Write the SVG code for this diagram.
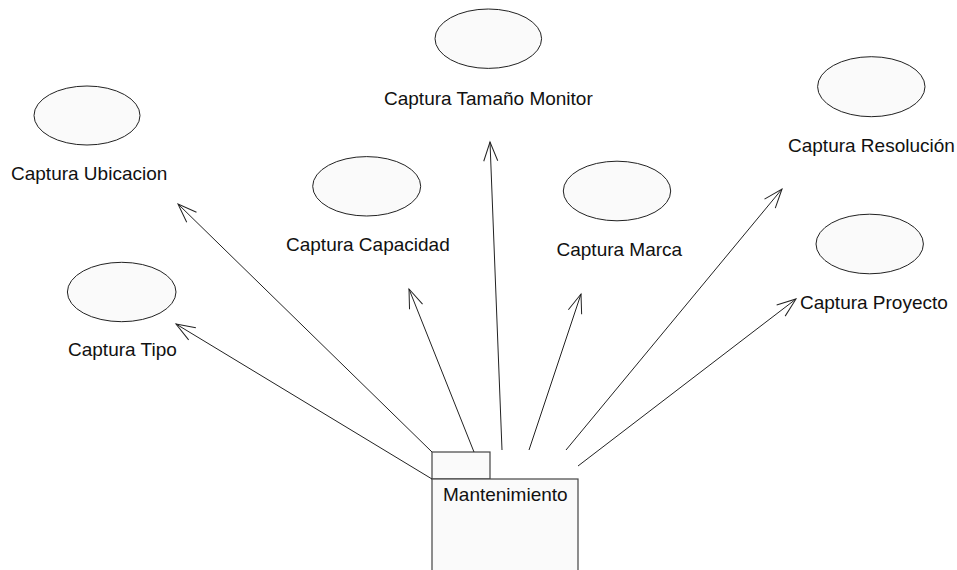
<svg xmlns="http://www.w3.org/2000/svg" width="957" height="570" viewBox="0 0 957 570">
<style>
.uc{fill:#fafafa;stroke:#222;stroke-width:1}
.lbl{font-family:"Liberation Sans",Arial,sans-serif;font-size:19px;fill:#111}
.pkg{fill:#fafafa;stroke:#444;stroke-width:1.2}
.conn line{stroke:#222;stroke-width:1;fill:none;marker-end:url(#open)}
</style>
<defs>
<marker id="open" markerUnits="userSpaceOnUse" markerWidth="30" markerHeight="30" refX="0" refY="0" viewBox="-25 -12 30 24" orient="auto" overflow="visible">
<path d="M-19,-7 L0,0 L-19,7" fill="none" stroke="#222" stroke-width="1"/>
</marker>
</defs>
<rect width="957" height="570" fill="#fff"/>
<g id="ubicacion"><ellipse class="uc" cx="87" cy="115.5" rx="53" ry="29.5"/><text class="lbl" x="11" y="180">Captura Ubicacion</text></g>
<g id="tipo"><ellipse class="uc" cx="121.7" cy="292" rx="54.3" ry="29.7"/><text class="lbl" x="68" y="356">Captura Tipo</text></g>
<g id="capacidad"><ellipse class="uc" cx="366.7" cy="186.3" rx="54" ry="29.7"/><text class="lbl" x="286" y="250.5">Captura Capacidad</text></g>
<g id="tamano"><ellipse class="uc" cx="488.3" cy="38.7" rx="53.3" ry="29.7"/><text class="lbl" x="384" y="105">Captura Tamaño Monitor</text></g>
<g id="marca"><ellipse class="uc" cx="617" cy="191" rx="53.7" ry="29.8"/><text class="lbl" x="556.5" y="256">Captura Marca</text></g>
<g id="resolucion"><ellipse class="uc" cx="871.3" cy="86.7" rx="53.7" ry="30"/><text class="lbl" x="788" y="151.5">Captura Resolución</text></g>
<g id="proyecto"><ellipse class="uc" cx="869.7" cy="244" rx="53.7" ry="29.8"/><text class="lbl" x="800" y="309">Captura Proyecto</text></g>
<g id="mantenimiento">
<rect class="pkg" x="432" y="452" width="58" height="27"/>
<rect class="pkg" x="432" y="479" width="146" height="100"/>
<text class="lbl" x="443" y="501">Mantenimiento</text>
</g>
<g id="connectors" class="conn">
<line x1="432" y1="452" x2="178" y2="204"/>
<line x1="432" y1="479" x2="176" y2="324"/>
<line x1="474" y1="452" x2="409" y2="289"/>
<line x1="502" y1="450" x2="490" y2="142"/>
<line x1="529" y1="450" x2="581" y2="294"/>
<line x1="566" y1="450" x2="782" y2="189"/>
<line x1="578" y1="466" x2="796" y2="299"/>
</g>
</svg>
